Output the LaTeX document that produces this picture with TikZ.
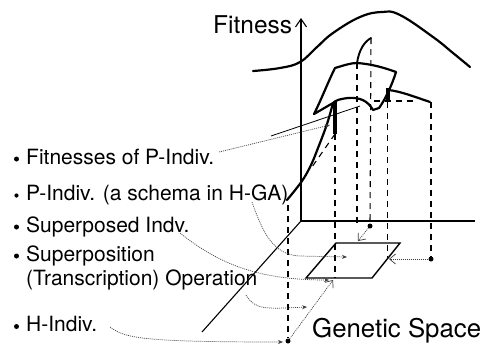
\documentclass[tikz,border=0pt]{standalone}
\usepackage{fontspec}
\setmainfont{TeX Gyre Heros}
\usetikzlibrary{arrows.meta}
\begin{document}
\begin{tikzpicture}[x=1pt,y=-1pt,
  lbl/.style={anchor=base west,inner sep=0pt,font=\fontsize{21}{24}\selectfont},
  ttl/.style={anchor=base west,inner sep=0pt,font=\fontsize{25.8}{28}\selectfont},
  axisline/.style={line width=1.1pt},
  heavy/.style={line width=2.2pt,line join=round,line cap=round},
  proj/.style={line width=1.1pt,dash pattern=on 6pt off 5pt},
  lead/.style={line width=0.7pt,dash pattern=on 1pt off 1pt,black!75},
  tipS/.style={-{Stealth[length=5pt,width=4pt]}},
  tipV/.style={-{Straight Barb[length=6pt,width=10pt]}},
  dotc/.style={circle,fill,inner sep=0pt,minimum size=5pt}
]
\useasboundingbox (0,0) rectangle (484,346);

% axes
\coordinate (O) at (301,221);
\coordinate (Ztop) at (301,18);
\coordinate (Xend) at (475,221);
\coordinate (Yend) at (202,332);
\draw[axisline,-{Straight Barb[length=8pt,width=11pt]}] (O) -- (Ztop);
\draw[axisline] (O) -- (Xend);
\draw[axisline] (O) -- (Yend);

% titles
\node[ttl,font=\fontsize{24.5}{28}\selectfont] (fit) at (213,33) {Fitness};
\node[ttl] (gs) at (312,337) {Genetic Space};

% top landscape curve
\draw[heavy] plot[smooth,tension=0.7] coordinates {(253,71) (280,68) (300,62) (317,47) (333,33) (360,17) (382,12) (400,15) (433,37) (453,53) (470,67)};

% surface (P-Indiv)
\coordinate (A) at (335,68);
\coordinate (B) at (357,63);
\coordinate (C) at (396,72);
\coordinate (D) at (388,90);
\coordinate (E) at (373,110);
\coordinate (G) at (333,103);
\coordinate (H) at (314,114);
\coordinate (T) at (371,38);
\draw[heavy] (A) .. controls (345,65) and (351,63) .. (B) .. controls (372,64) and (385,68) .. (C)
  .. controls (392,85) and (385,100) .. (379,108) -- (E)
  .. controls (368,101) and (360,97) .. (348,98) .. controls (340,99) and (336,100) .. (G)
  -- (H) .. controls (322,98) and (328,82) .. (A) -- cycle;
\draw[heavy,line width=1.9pt] (B) .. controls (359,50) and (364,42) .. (T);
\draw[heavy] (D) .. controls (400,91) and (415,97) .. (430,102);
\draw[heavy] plot[smooth,tension=0.6] coordinates {(287,200) (302,181) (311,165) (318,148) (327,124) (G)};

% fitness bars
\coordinate (barLt) at (335,102);
\coordinate (barLb) at (335,134);
\coordinate (barRt) at (387.5,88);
\coordinate (barRb) at (387.5,102);
\draw[line width=4pt] (barLt) -- (barLb);
\draw[line width=4pt] (barRt) -- (barRb);

% thin solid line
\coordinate (sl1) at (271,136);
\coordinate (sl2) at (360,106);
\draw[line width=0.8pt] (sl1) -- (sl2);

% dashed projections
\coordinate (dsh) at (312,167);
\draw[proj] (barLb) -- (dsh);
\coordinate (hd1) at (374,101);
\coordinate (hd2) at (414,101);
\draw[proj] (hd1) -- (hd2);

\node[dotc] (dotA) at (370,226) {};
\node[dotc] (dotB) at (431,259) {};
\node[dotc] (dotC) at (288,341) {};

\coordinate (v1b) at (335,278);
\coordinate (v2b) at (357,224);
\coordinate (v4b) at (387.5,258);
\coordinate (v5t) at (431,102);
\coordinate (v6t) at (288,205);
\draw[proj] (barLb) -- (v1b);
\draw[proj] (B) -- (v2b);
\draw[proj] (T) -- (dotA);
\draw[proj] (barRb) -- (v4b);
\draw[proj] (v5t) -- (dotB);
\draw[proj] (v6t) -- (dotC);

% superposed individual (parallelogram)
\coordinate (P1) at (336,243);
\coordinate (P2) at (400,243);
\coordinate (P3) at (372,278);
\coordinate (P4) at (306,278);
\draw[line width=1.4pt,line join=miter] (P1) -- (P2) -- (P3) -- (P4) -- cycle;

% dotted arrows from dots
\coordinate (aA) at (358,241);
\coordinate (aB) at (389,259);
\coordinate (aC) at (333,280);
\draw[lead,tipV] (dotA) -- (aA);
\draw[lead,tipV] (dotB) -- (aB);
\draw[lead,tipV] (dotC) -- (aC);

% labels
\fill (16.5,159) circle (2.5);
\node[lbl] (l1) at (26,164) {Fitnesses of P-Indiv.};
\fill (16.5,195.5) circle (2.1);
\node[lbl] (l2) at (26,200) {P-Indiv. (a schema in H-GA)};
\fill (16.5,227) circle (2.5);
\node[lbl] (l3) at (26,232) {Superposed Indv.};
\fill (16.5,256) circle (2.5);
\node[lbl] (l4) at (26,261) {Superposition};
\node[lbl] (l5) at (26,285) {(Transcription) Operation};
\fill (16.5,326.5) circle (2.5);
\node[lbl] (l6) at (26,331) {H-Indiv.};

% leaders
\coordinate (s1) at (219,152);
\coordinate (e1) at (330,125);
\coordinate (s2) at (252,202);
\coordinate (e2) at (347,257);
\coordinate (s3) at (180,233);
\coordinate (e3) at (329,280);
\coordinate (s4) at (246,295);
\coordinate (e4) at (307,307);
\coordinate (s5) at (110,327);
\coordinate (e5) at (283,342);
\draw[lead,tipS] (s1) -- (e1);
\draw[lead,tipS] (s2) .. controls (262,230) and (272,255) .. (300,256) -- (e2);
\draw[lead,tipS] (s3) .. controls (220,265) and (260,280) .. (e3);
\draw[lead,tipS] (s4) .. controls (255,310) and (265,309) .. (e4);
\draw[lead,tipS] (s5) .. controls (125,338) and (140,342) .. (e5);
\end{tikzpicture}
\end{document}
